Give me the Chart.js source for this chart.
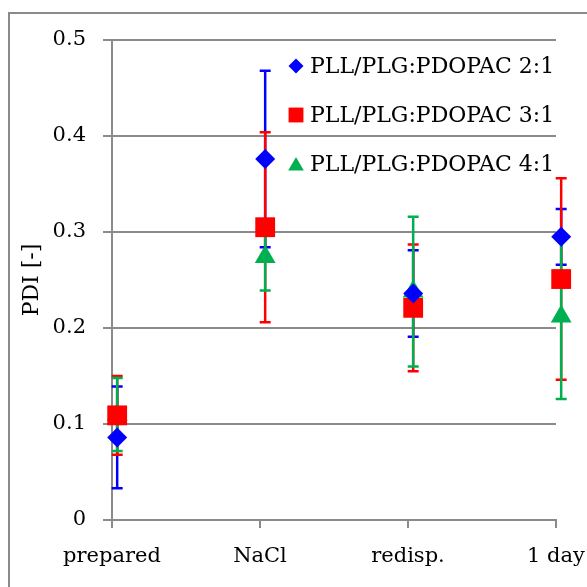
<!DOCTYPE html>
<html>
<head>
<meta charset="utf-8">
<script src="https://cdn.jsdelivr.net/npm/chart.js@4.4.0/dist/chart.umd.min.js"></script>
<style>
  html, body { margin: 0; padding: 0; background: #fff; overflow: hidden; }
  #wrap { position: relative; width: 587px; height: 587px; overflow: hidden; }
  #frame { position: absolute; left: 8px; top: 12px; width: 700px; height: 700px; border: 2px solid #8a8a8a; box-sizing: border-box; pointer-events: none; }
  canvas { position: absolute; left: 0; top: 0; }
</style>
</head>
<body>
<div id="wrap">
  <canvas id="c" width="587" height="587"></canvas>
  <div id="frame"></div>
</div>
<script>
// ---- data ----
const categories = ['prepared', 'NaCl', 'redisp.', '1 day'];
const seriesNames = ['PLL/PLG:PDOPAC 2:1', 'PLL/PLG:PDOPAC 3:1', 'PLL/PLG:PDOPAC 4:1'];
const pdi21 = [0.086, 0.376, 0.236, 0.295];
const err21 = [0.053, 0.092, 0.045, 0.029];
const pdi31 = [0.109, 0.305, 0.221, 0.251];
const err31 = [0.041, 0.099, 0.066, 0.105];
const pdi41 = [0.110, 0.274, 0.238, 0.212];
const err41 = [0.038, 0.035, 0.078, 0.086];
const yTitle = 'PDI [-]';

// ---- styles ----
const colors = ['#0000FF', '#FF0000', '#00B050'];
const styles = ['rectRot', 'rect', 'triangle'];
const radii = [10, 14, 12];
const legendRadii = [7.5, 10.5, 9];
const xShift = 0.035;
const gridColor = '#8a8a8a';

Chart.defaults.font.family = "'DejaVu Serif', serif";
Chart.defaults.color = '#000';

const values = [pdi21, pdi31, pdi41];
const errors = [err21, err31, err41];

const datasets = values.map((vals, i) => ({
  label: seriesNames[i],
  data: vals.map((v, j) => ({ x: j + xShift, y: v })),
  errs: errors[i],
  showLine: false,
  pointStyle: styles[i],
  pointRadius: radii[i],
  pointHoverRadius: radii[i],
  backgroundColor: colors[i],
  borderColor: colors[i],
  pointBorderWidth: 0,
  clip: false
}));

const errorBars = {
  id: 'errorBars',
  beforeDatasetsDraw(chart) {
    const { ctx, scales: { x, y } } = chart;
    ctx.save();
    ctx.lineWidth = 2.5;
    chart.data.datasets.forEach((ds, i) => {
      ctx.strokeStyle = colors[i];
      ds.data.forEach((p, j) => {
        const e = ds.errs[j];
        const px = x.getPixelForValue(p.x);
        const yt = y.getPixelForValue(p.y + e);
        const yb = y.getPixelForValue(p.y - e);
        const cap = 5.5;
        ctx.beginPath();
        ctx.moveTo(px, yt); ctx.lineTo(px, yb);
        ctx.moveTo(px - cap, yt); ctx.lineTo(px + cap, yt);
        ctx.moveTo(px - cap, yb); ctx.lineTo(px + cap, yb);
        ctx.stroke();
      });
    });
    ctx.restore();
  }
};

const customLegend = {
  id: 'customLegend',
  afterDatasetsDraw(chart) {
    const { ctx, chartArea } = chart;
    ctx.save();
    ctx.font = "22px 'DejaVu Serif', serif";
    ctx.textBaseline = 'middle';
    ctx.textAlign = 'left';
    chart.data.datasets.forEach((ds, i) => {
      const cy = chartArea.top + 26 + i * 49;
      const mx = chartArea.left + 184;
      ctx.fillStyle = colors[i];
      Chart.helpers.drawPoint(ctx, { pointStyle: styles[i], radius: legendRadii[i], rotation: 0, borderWidth: 0 }, mx, cy + (i === 2 ? 2 : 0));
      ctx.fillStyle = '#000';
      ctx.fillText(ds.label, chartArea.left + 198, cy + 1);
    });
    ctx.restore();
  }
};

new Chart(document.getElementById('c'), {
  type: 'scatter',
  data: { datasets },
  options: {
    responsive: false,
    animation: false,
    devicePixelRatio: 1,
    layout: { padding: { left: 0, right: 31, top: 40, bottom: 0 } },
    plugins: { legend: { display: false }, tooltip: { enabled: false } },
    scales: {
      x: {
        type: 'linear',
        min: 0, max: 3,
        afterFit(s) { s.height = 67; s.paddingLeft = 0; s.paddingRight = 0; },
        ticks: {
          stepSize: 1,
          autoSkip: false,
          maxRotation: 0,
          padding: 16,
          font: { size: 21 },
          callback: v => categories[v] ?? ''
        },
        grid: { drawOnChartArea: false, drawTicks: true, tickLength: 8, color: gridColor, lineWidth: 2 },
        border: { display: true, color: gridColor, width: 2 }
      },
      y: {
        min: 0, max: 0.5,
        afterFit(s) { s.width = 112; s.paddingTop = 0; s.paddingBottom = 0; },
        ticks: {
          stepSize: 0.1,
          padding: 17,
          font: { size: 21 },
          callback: v => (Math.abs(v) < 1e-9 ? '0' : v.toFixed(1))
        },
        grid: { color: gridColor, lineWidth: 2, tickLength: 9 },
        border: { display: true, color: gridColor, width: 2 },
        title: { display: true, text: yTitle, font: { size: 22 }, padding: { top: 19, bottom: 0 } }
      }
    }
  },
  plugins: [errorBars, customLegend]
});
</script>
</body>
</html>
